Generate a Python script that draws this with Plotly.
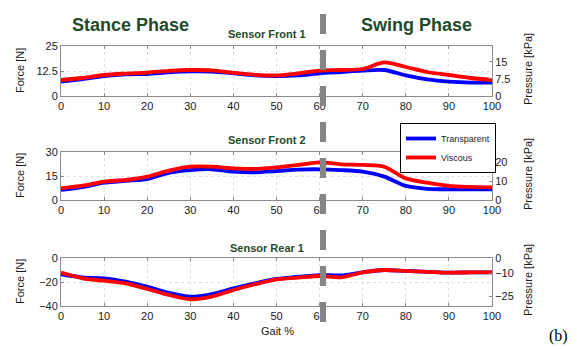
import plotly.graph_objects as go

gait = [0, 5, 10, 15, 20, 25, 30, 35, 40, 45, 50, 55, 60, 65, 70, 75, 80, 85, 90, 95, 100]

front1_transparent = [7.2, 8.5, 10, 10.8, 11, 11.8, 12.3, 12.2, 11.3, 10.3, 10, 10.3, 11.3, 12, 12.7, 13, 10.3, 8.3, 7.2, 6.7, 6.7]
front1_viscous = [8, 9, 10.5, 11.2, 11.7, 12.6, 13, 12.8, 11.6, 10.6, 10.3, 11.3, 12.7, 13, 13.5, 16.8, 14.5, 12, 10.5, 9, 8]

front2_transparent = [6.3, 8, 10.8, 12, 13.1, 17, 18.7, 19.2, 17.7, 17.3, 18.1, 19, 19.2, 18.7, 17.7, 14.6, 8.8, 7, 6.7, 6.7, 6.7]
front2_viscous = [7.3, 9, 11.5, 12.5, 14.6, 18.3, 20.8, 20.8, 19.8, 19.4, 20.4, 21.9, 23.5, 22.3, 21.9, 20.8, 13.5, 10.8, 8.8, 8.2, 7.9]

rear1_transparent = [-13.5, -16.1, -16.9, -19.7, -23.9, -28.9, -32.2, -30, -25.3, -21.1, -17.5, -15.6, -14.2, -14.5, -11.9, -10, -10.8, -11.5, -12.2, -12, -11.9]
rear1_viscous = [-12.2, -16.9, -18.9, -21.1, -25.8, -30.8, -34.4, -32.2, -26.7, -21.9, -17.8, -16.4, -15, -16.1, -11.9, -10, -10.8, -11.5, -12.2, -12, -11.9]

x_ticks = [0, 10, 20, 30, 40, 50, 60, 70, 80, 90, 100]
left_ticks = [[0, 12.5, 25], [0, 15, 30], [-40, -20, 0]]
left_ranges = [[0, 25], [0, 30], [-40, 0]]
right_ticks = [[0, 7.5, 15], [0, 10, 20], [-25, -10, 0]]
right_ranges = [[0, 22], [0, 25.3], [-31.5, 0]]
panel_titles = ["Sensor Front 1", "Sensor Front 2", "Sensor Rear 1"]
series_names = ["Transparent", "Viscous"]

W, H = 577, 349
def px(x):
    return x / W
def py(y):
    return 1 - y / H

BLUE = "#0000ff"
RED = "#ff0000"
GREEN = "#1f4a2c"
FONT = "Liberation Sans, Arial, sans-serif"
AXC = "#8c8c8c"

fig = go.Figure()

panels = [
    (front1_transparent, front1_viscous),
    (front2_transparent, front2_viscous),
    (rear1_transparent, rear1_viscous),
]
domains = [(46, 96), (152, 200), (258, 306)]

for i, (tr, vi) in enumerate(panels):
    xa = "x" if i == 0 else f"x{i+1}"
    ya = "y" if i == 0 else f"y{i+1}"
    fig.add_trace(go.Scatter(x=gait, y=tr, xaxis=xa, yaxis=ya, mode="lines",
                             line=dict(color=BLUE, width=3.8, shape="spline", smoothing=0.8),
                             name=series_names[0], showlegend=(i == 0), legendrank=1))
    fig.add_trace(go.Scatter(x=gait, y=vi, xaxis=xa, yaxis=ya, mode="lines",
                             line=dict(color=RED, width=3.8, shape="spline", smoothing=0.8),
                             name=series_names[1], showlegend=(i == 0), legendrank=2))
    fig.add_trace(go.Scatter(x=[None], y=[None], xaxis=xa, yaxis=f"y{i+4}",
                             showlegend=False, hoverinfo="skip"))

layout = dict(
    width=W, height=H,
    margin=dict(l=0, r=0, t=0, b=0, autoexpand=False),
    paper_bgcolor="white", plot_bgcolor="white",
    font=dict(family=FONT, size=11, color="#1a1a1a"),
    legend=dict(x=px(400), y=py(123), xanchor="left", yanchor="top",
                bordercolor="black", borderwidth=1, bgcolor="white",
                font=dict(size=9, family=FONT, color="#1a1a1a"),
                tracegroupgap=0, itemwidth=30),
)

for i in range(3):
    top, bot = domains[i]
    xk = "xaxis" if i == 0 else f"xaxis{i+1}"
    yk = "yaxis" if i == 0 else f"yaxis{i+1}"
    xa_ref = "x" if i == 0 else f"x{i+1}"
    ya_ref = "y" if i == 0 else f"y{i+1}"
    layout[xk] = dict(domain=[px(61), px(492)], range=[0, 100], anchor=ya_ref,
                      tickvals=x_ticks, ticks="inside", ticklen=3, tickcolor=AXC,
                      showline=True, linecolor=AXC, linewidth=1, mirror="ticks",
                      showgrid=True, gridcolor="#e0e0e0", griddash="dot",
                      zeroline=False, tickfont=dict(size=11), automargin=False)
    layout[yk] = dict(domain=[py(bot), py(top)], range=left_ranges[i], anchor=xa_ref,
                      tickvals=left_ticks[i], ticks="inside", ticklen=3, tickcolor=AXC,
                      showline=True, linecolor=AXC, linewidth=1,
                      showgrid=True, gridcolor="#e0e0e0", griddash="dot",
                      zeroline=False, tickfont=dict(size=11), automargin=False)
    layout[f"yaxis{i+4}"] = dict(overlaying=ya_ref, side="right", anchor=xa_ref,
                                 range=right_ranges[i], tickvals=right_ticks[i],
                                 ticks="inside", ticklen=3, tickcolor=AXC,
                                 showline=True, linecolor=AXC, linewidth=1,
                                 showgrid=False, zeroline=False, tickfont=dict(size=11),
                                 automargin=False)

fig.update_layout(**layout)

def note(text, x, y, size=11, color="#1a1a1a", family=FONT, angle=0):
    return dict(text=text, x=px(x), y=py(y), xref="paper", yref="paper",
                showarrow=False, textangle=angle, xanchor="center", yanchor="middle",
                font=dict(size=size, color=color, family=family))

ann = []
title_y = [34, 140, 248]
for i, t in enumerate(panel_titles):
    ann.append(note(f"<b>{t}</b>", 267, title_y[i], size=11, color=GREEN))
    mid = (domains[i][0] + domains[i][1]) / 2
    ann.append(note("Force [N]", 20, mid, angle=-90))
    ann.append(note("Pressure [kPa]", 528, mid - 2, angle=-90))

ann.append(note("<b>Stance Phase</b>", 130, 25, size=18, color=GREEN))
ann.append(note("<b>Swing Phase</b>", 416, 25, size=18, color=GREEN))
ann.append(note("Gait %", 277, 331))
ann.append(note("(b)", 558, 336, size=16, color="black",
                family="Liberation Serif, Times New Roman, serif"))
fig.update_layout(annotations=ann)

fig.add_shape(type="line", xref="paper", yref="paper",
              x0=px(323), x1=px(323), y0=py(14), y1=py(327),
              line=dict(color="#858585", width=6, dash="20px,16px"), layer="above")

fig.write_html("out.html", config={"displayModeBar": False},
               post_script="document.body.style.margin='0px';")
